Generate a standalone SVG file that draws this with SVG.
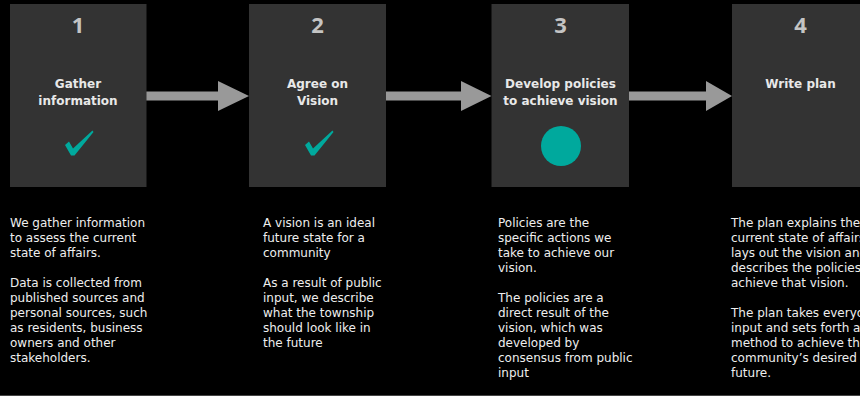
<svg xmlns="http://www.w3.org/2000/svg" width="860" height="396" viewBox="0 0 860 396">
<style>
.box{fill:#333333}
.num{font-family:"Open Sans",sans-serif;font-weight:bold;font-size:22px;fill:#c4c4c4;text-anchor:middle}
.ttl{font-family:"DejaVu Sans",sans-serif;font-weight:bold;font-size:12px;fill:#e8e8e8;text-anchor:middle}
.body{font-family:"DejaVu Sans",sans-serif;font-size:12px;fill:#eeeeee}
.arr{fill:#999999}
.mark{fill:#00a99d}
</style>
<rect x="0" y="0" width="860" height="396" fill="#000"/>
<line x1="0" y1="395.5" x2="860" y2="395.5" stroke="#444" stroke-width="1"/>
<g id="connectors">
<polygon class="arr" points="146,91.5 218,91.5 218,81 249,96 218,111 218,100.5 146,100.5"/>
<polygon class="arr" points="386,91.5 461,91.5 461,81 491.5,96 461,111 461,100.5 386,100.5"/>
<polygon class="arr" points="629,91.5 706,91.5 706,81 732,96 706,111 706,100.5 629,100.5"/>
</g>
<g id="node1">
<rect class="box" x="10" y="4" width="136.5" height="183"/>
<text class="num" x="78" y="33">1</text>
<text class="ttl" x="78" y="88">Gather</text>
<text class="ttl" x="78" y="105">information</text>
<polygon class="mark" points="65,145 69,141.5 73,148.5 92.5,130.5 93.5,132 74.5,155.5 71,155.5"/>
<text class="body"><tspan x="10" y="227">We gather information</tspan><tspan x="10" y="242">to assess the current</tspan><tspan x="10" y="257">state of affairs.</tspan><tspan x="10" y="287">Data is collected from</tspan><tspan x="10" y="302">published sources and</tspan><tspan x="10" y="317">personal sources, such</tspan><tspan x="10" y="332">as residents, business</tspan><tspan x="10" y="347">owners and other</tspan><tspan x="10" y="362">stakeholders.</tspan></text>
</g>
<g id="node2">
<rect class="box" x="249" y="4" width="137" height="183"/>
<text class="num" x="317.5" y="33">2</text>
<text class="ttl" x="317.5" y="88">Agree on</text>
<text class="ttl" x="317.5" y="105">Vision</text>
<polygon class="mark" points="305,145 309,141.5 313,148.5 332.5,130.5 333.5,132 314.5,155.5 311,155.5"/>
<text class="body"><tspan x="263" y="227">A vision is an ideal</tspan><tspan x="263" y="242">future state for a</tspan><tspan x="263" y="257">community</tspan><tspan x="263" y="287">As a result of public</tspan><tspan x="263" y="302">input, we describe</tspan><tspan x="263" y="317">what the township</tspan><tspan x="263" y="332">should look like in</tspan><tspan x="263" y="347">the future</tspan></text>
</g>
<g id="node3">
<rect class="box" x="491.5" y="4" width="137.5" height="183"/>
<text class="num" x="560.5" y="33">3</text>
<text class="ttl" x="560.5" y="88">Develop policies</text>
<text class="ttl" x="560.5" y="105">to achieve vision</text>
<circle class="mark" cx="561" cy="146" r="20"/>
<text class="body"><tspan x="498" y="227">Policies are the</tspan><tspan x="498" y="242">specific actions we</tspan><tspan x="498" y="257">take to achieve our</tspan><tspan x="498" y="272">vision.</tspan><tspan x="498" y="302">The policies are a</tspan><tspan x="498" y="317">direct result of the</tspan><tspan x="498" y="332">vision, which was</tspan><tspan x="498" y="347">developed by</tspan><tspan x="498" y="362">consensus from public</tspan><tspan x="498" y="377">input</tspan></text>
</g>
<g id="node4">
<rect class="box" x="732" y="4" width="137" height="183"/>
<text class="num" x="800.5" y="33">4</text>
<text class="ttl" x="800.5" y="88">Write plan</text>
<text class="body"><tspan x="731" y="227">The plan explains the</tspan><tspan x="731" y="242">current state of affairs,</tspan><tspan x="731" y="257">lays out the vision and</tspan><tspan x="731" y="272">describes the policies to</tspan><tspan x="731" y="287">achieve that vision.</tspan><tspan x="731" y="317">The plan takes everyone's</tspan><tspan x="731" y="332">input and sets forth a</tspan><tspan x="731" y="347">method to achieve the</tspan><tspan x="731" y="362">community’s desired</tspan><tspan x="731" y="377">future.</tspan></text>
</g>
</svg>
